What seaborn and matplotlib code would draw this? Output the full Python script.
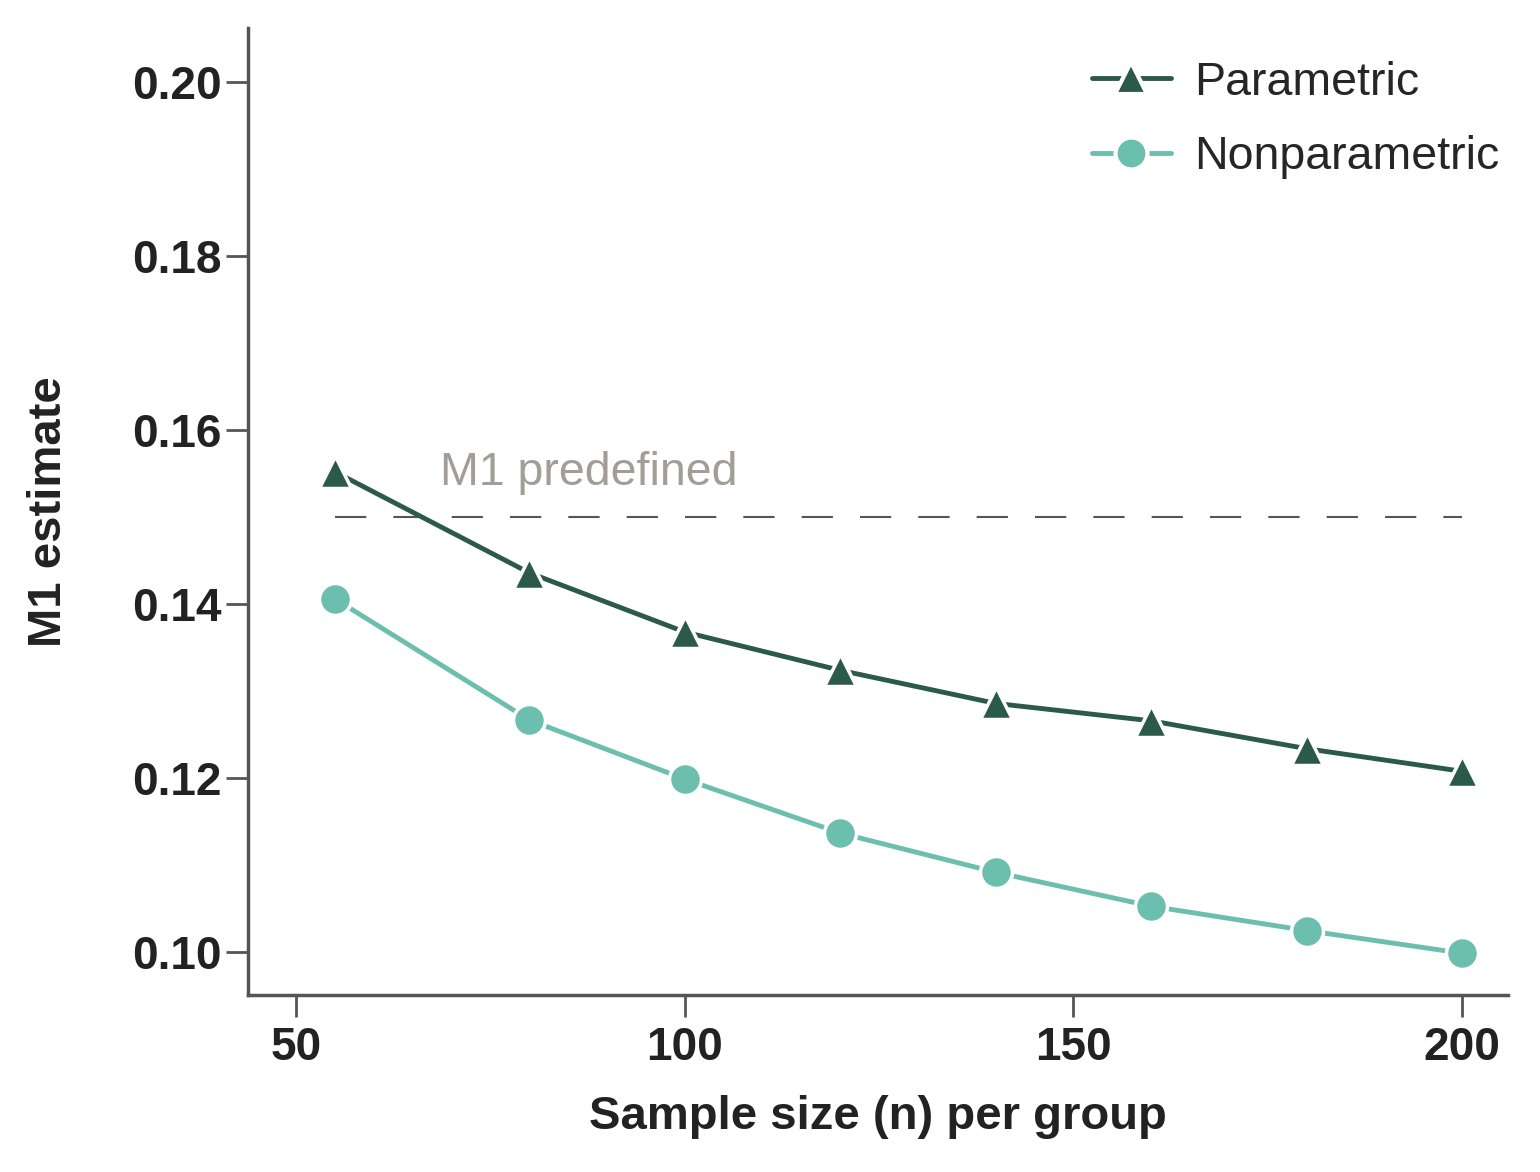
import matplotlib
matplotlib.use("Agg")
import matplotlib.pyplot as plt
import seaborn as sns
import pandas as pd
from matplotlib.lines import Line2D

sample_size = [55, 80, 100, 120, 140, 160, 180, 200]
parametric = [0.1552, 0.1436, 0.1368, 0.1324, 0.1286, 0.1266, 0.1234, 0.1208]
nonparametric = [0.1406, 0.1267, 0.1199, 0.1137, 0.1092, 0.1053, 0.1025, 0.0999]
m1_predefined = 0.15
x_ticks = [50, 100, 150, 200]
y_ticks = [0.10, 0.12, 0.14, 0.16, 0.18, 0.20]

dark = "#2b5a4b"
light = "#6cbfae"

sns.set_theme(style="white")
plt.rcParams['font.family'] = ['Liberation Sans', 'DejaVu Sans']

df = pd.DataFrame({
    "n": sample_size * 2,
    "M1": parametric + nonparametric,
    "method": ["Parametric"] * len(sample_size) + ["Nonparametric"] * len(sample_size),
})

fig = plt.figure(figsize=(15.4, 11.72), dpi=100)
ax = fig.add_axes([248 / 1540, 1 - 995 / 1172, (1508 - 248) / 1540, (995 - 28) / 1172])

sns.lineplot(data=df, x="n", y="M1", hue="method", style="method",
             palette={"Parametric": dark, "Nonparametric": light},
             markers={"Parametric": "^", "Nonparametric": "o"},
             dashes=False, linewidth=3.5, markersize=23,
             markeredgecolor="white", markeredgewidth=2.5, ax=ax, legend=False)

ax.plot([sample_size[0], sample_size[-1]], [m1_predefined, m1_predefined],
        linestyle=(0, (15, 13)), color="#555555", linewidth=1.5, zorder=0)
ax.text(68.5, m1_predefined + 0.0025, "M1 predefined", color="#a39d97",
        fontsize=33.5, ha="left", va="bottom")

ax.set_xlim(43.8, 205.9)
ax.set_ylim(0.0951, 0.2062)
ax.set_xticks(x_ticks)
ax.set_yticks(y_ticks)
ax.set_yticklabels([f"{v:.2f}" for v in y_ticks])
ax.tick_params(axis="both", labelsize=33, length=16, width=2, color="#555555",
               direction="out", pad=3, left=True, bottom=True)
ax.tick_params(axis="x", pad=6)
for lab in ax.get_xticklabels() + ax.get_yticklabels():
    lab.set_fontweight("bold")
    lab.set_color("#222222")

for s in ["top", "right"]:
    ax.spines[s].set_visible(False)
for s in ["left", "bottom"]:
    ax.spines[s].set_color("#555555")
    ax.spines[s].set_linewidth(2.5)

ax.set_xlabel("Sample size (n) per group", fontsize=34, fontweight="bold", color="#222222", labelpad=18)
ax.set_ylabel("M1 estimate", fontsize=34, fontweight="bold", color="#222222", labelpad=44)

handles = [
    Line2D([], [], color=dark, marker="^", markersize=23, linewidth=3.5,
           markeredgecolor="white", markeredgewidth=3),
    Line2D([], [], color=light, marker="o", markersize=23, linewidth=3.5,
           markeredgecolor="white", markeredgewidth=3),
]
leg = ax.legend(handles, ["Parametric", "Nonparametric"], loc="upper right",
                bbox_to_anchor=(1.019, 1.0), frameon=False, fontsize=33.5,
                handlelength=1.7, handletextpad=0.5, labelspacing=0.65,
                borderaxespad=0.3)

fig.savefig("out.png", dpi=100, facecolor="white")
